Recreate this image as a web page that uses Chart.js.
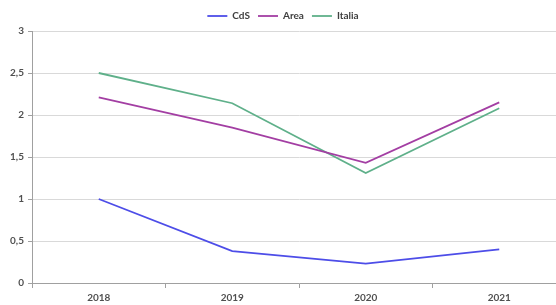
<!DOCTYPE html>
<html>
<head>
<meta charset="utf-8">
<script src="https://cdn.jsdelivr.net/npm/chart.js@4/dist/chart.umd.min.js"></script>
<style>
  html, body { margin: 0; padding: 0; background: #fff; overflow: hidden; }
  #wrap { width: 566px; height: 305px; position: relative; }
</style>
</head>
<body>
<div id="wrap"><canvas id="chart"></canvas></div>
<script>
// --------- DATI ----------
const years = ['2018', '2019', '2020', '2021'];
const cdsValues = [1.0, 0.38, 0.23, 0.40];
const areaValues = [2.21, 1.85, 1.43, 2.15];
const italiaValues = [2.50, 2.14, 1.31, 2.08];
const yTicks = [0, 0.5, 1, 1.5, 2, 2.5, 3];

const labelFont = { family: 'Lato, "Open Sans", sans-serif', size: 10, weight: 'bold' };

const ctx = document.getElementById('chart').getContext('2d');

new Chart(ctx, {
    type: 'line',
    data: {
        labels: years,
        datasets: [
            { label: 'CdS', data: cdsValues, borderColor: '#4d4de8', backgroundColor: '#4d4de8', borderWidth: 1.8, pointRadius: 0, tension: 0 },
            { label: 'Area', data: areaValues, borderColor: '#a33ea3', backgroundColor: '#a33ea3', borderWidth: 1.8, pointRadius: 0, tension: 0 },
            { label: 'Italia', data: italiaValues, borderColor: '#5fb08a', backgroundColor: '#5fb08a', borderWidth: 1.8, pointRadius: 0, tension: 0 }
        ]
    },
    options: {
        responsive: true,
        maintainAspectRatio: false,
        animation: false,
        layout: { padding: { top: 3, left: 0, right: 0, bottom: 0 } },
        plugins: {
            tooltip: { enabled: false },
            legend: {
                position: 'top',
                labels: {
                    usePointStyle: true,
                    pointStyle: 'line',
                    pointStyleWidth: 20,
                    boxHeight: 2,
                    padding: 8,
                    color: '#404040',
                    font: labelFont
                }
            }
        },
        scales: {
            x: {
                offset: true,
                grid: { display: true, offset: true, drawOnChartArea: false, drawTicks: true, tickLength: 5, color: '#a0a0a0' },
                border: { color: '#a0a0a0' },
                ticks: { color: '#505050', font: labelFont, padding: 4, maxRotation: 0 },
                afterFit: (scale) => { scale.height = 22; }
            },
            y: {
                min: 0,
                max: 3,
                afterBuildTicks: (scale) => { scale.ticks = yTicks.map(v => ({ value: v })); },
                grid: { color: '#d9d9d9', tickColor: '#a0a0a0', tickLength: 4 },
                border: { color: '#a0a0a0' },
                ticks: {
                    color: '#505050',
                    font: labelFont,
                    padding: 4,
                    callback: (v) => String(v).replace('.', ',')
                },
                afterFit: (scale) => { scale.width = 32; }
            }
        }
    }
});
</script>
</body>
</html>
